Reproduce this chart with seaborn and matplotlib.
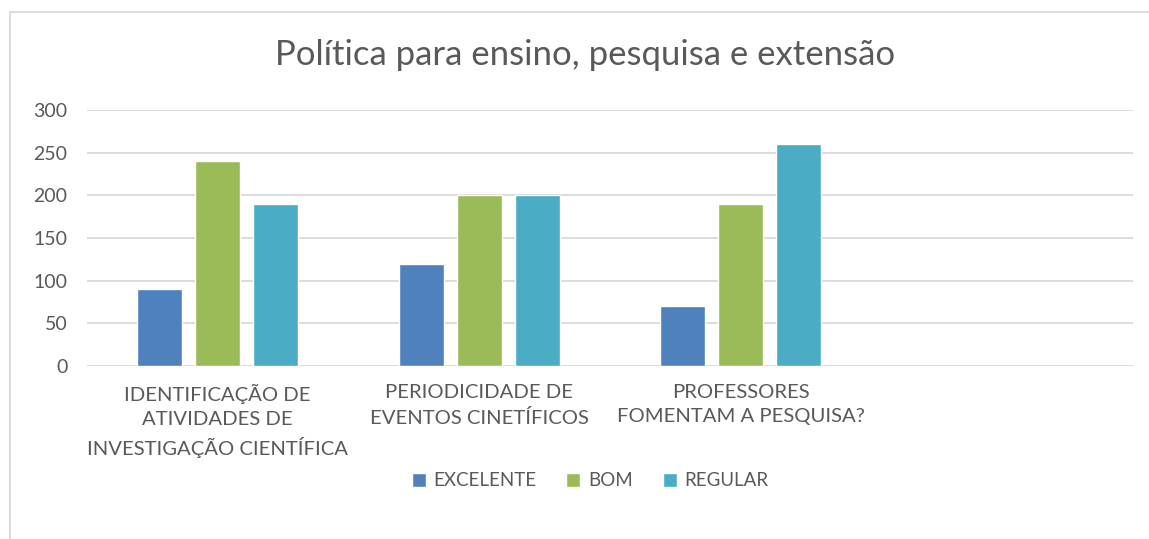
import matplotlib
matplotlib.use("Agg")
import matplotlib.pyplot as plt
import pandas as pd
import seaborn as sns
from matplotlib.patches import Rectangle

# values
categories = ["IDENTIFICAÇÃO DE\nATIVIDADES DE\nINVESTIGAÇÃO CIENTÍFICA",
              "PERIODICIDADE DE\nEVENTOS CINETÍFICOS",
              "PROFESSORES\nFOMENTAM A PESQUISA?"]
series = ["EXCELENTE", "BOM", "REGULAR"]
excelente = [90, 120, 70]
bom = [240, 200, 190]
regular = [190, 200, 260]
colors = ["#4F81BD", "#9BBB59", "#4BACC6"]

rows = []
for name, vals in zip(series, [excelente, bom, regular]):
    for cat, v in zip(categories, vals):
        rows.append({"cat": cat, "serie": name, "valor": v})
df = pd.DataFrame(rows)

sns.set_theme(style="white")
plt.rcParams["font.family"] = ["Lato", "DejaVu Sans"]
text_color = "#595959"

fig = plt.figure(figsize=(11.49, 5.39), dpi=100)
ax = fig.add_axes([87 / 1149, 1 - 366 / 539, (1133 - 87) / 1149, (366 - 110) / 539])

sns.barplot(data=df, x="cat", y="valor", hue="serie", order=categories,
            hue_order=series, palette=colors, width=0.665, gap=0.22,
            saturation=1, ax=ax, legend=True)

ax.set_xlim(-0.5, 3.5)
ax.set_ylim(0, 300)
ax.set_yticks(range(0, 301, 50))
ax.yaxis.grid(True, color="#D9D9D9", linewidth=1.3)
ax.set_axisbelow(True)
for s in ax.spines.values():
    s.set_visible(False)
ax.tick_params(axis="both", length=0, colors=text_color)
ax.tick_params(axis="y", labelsize=14, pad=14)
ax.tick_params(axis="x", labelsize=14.6, pad=13)
ax.set_xlabel("")
ax.set_ylabel("")
for lbl in ax.get_xticklabels():
    lbl.set_linespacing(1.5)

handles, labels = ax.get_legend_handles_labels()
ax.legend_.remove()
fig.legend(handles, labels, loc="center", bbox_to_anchor=(590 / 1149, 1 - 481 / 539),
           ncol=3, frameon=False, fontsize=13.5, handlelength=0.75, handleheight=0.75,
           columnspacing=1.6, handletextpad=0.4, labelcolor=text_color)

fig.text(585 / 1149, 1 - 55 / 539, "Política para ensino, pesquisa e extensão",
         ha="center", va="center", fontsize=25, color=text_color)

# chart area border
fig.add_artist(Rectangle((10 / 1149, -0.01), 1.1, 1 - 12 / 539 + 0.01,
                         transform=fig.transFigure, fill=False,
                         edgecolor="#D9D9D9", linewidth=1.3))

fig.savefig("out.png", dpi=100, facecolor="white")
